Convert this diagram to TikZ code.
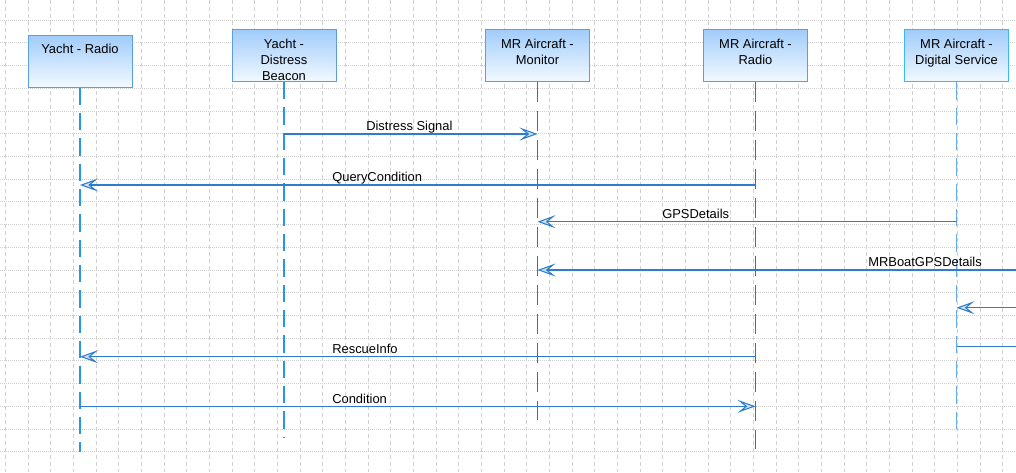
\documentclass[tikz,border=0pt]{standalone}
\usepackage{fontspec}
\setmainfont{Liberation Sans}
\usepackage{tikz}
\usetikzlibrary{arrows.meta, shapes, positioning}

\definecolor{rahmen}{RGB}{90,160,225}
\definecolor{rahmenhell}{RGB}{60,185,245}
\definecolor{boxoben}{RGB}{160,204,250}
\definecolor{boxunten}{RGB}{242,249,255}
\definecolor{lebenslinie}{RGB}{40,150,230}
\definecolor{lebenslinieb}{RGB}{105,172,232}
\definecolor{nachricht}{RGB}{45,125,205}
\definecolor{spitze}{RGB}{205,228,250}
\definecolor{raster}{RGB}{208,208,208}

\begin{document}
\begin{tikzpicture}[x=0.75pt, y=-0.75pt,
			objekt/.style={draw=rahmen, line width=0.75pt, top color=boxoben, bottom color=boxunten, minimum width=78pt, minimum height=39pt, inner sep=0pt},
			objtext/.style={anchor=north, align=center, inner sep=0pt},
			leben/.style={draw=lebenslinie, line width=0.9pt, dash pattern=on 13pt off 6pt},
			lebengrau/.style={draw=black!60, line width=0.75pt, dash pattern=on 15pt off 6.75pt},
			msg/.style={draw=nachricht, line width=0.8pt},
			lbl/.style={anchor=base west, inner sep=0pt},
			>={Stealth[length=13.5pt, width=9.75pt, inset=6pt, fill=spitze]},   %Pfeilspitzen
			font=\fontsize{9.7}{12}\selectfont]
			\useasboundingbox (0,0) rectangle (1016,472);
			\clip (0,0) rectangle (1016,472);
			%Raster zeichnen
			\foreach \i in {0,...,44} \draw[raster, line width=0.6pt, dash pattern=on 3pt off 2.25pt] ({5.3+22.67*\i},0) -- ({5.3+22.67*\i},472);
			\foreach \j in {1,...,21} \draw[raster, line width=0.6pt, dash pattern=on 0.75pt off 0.75pt] (0,{-2.7+22.72*\j}) -- (1016,{-2.7+22.72*\j});
			% Objekte
			\node[objekt] (yr) at (80,61) {};
			\node[objekt] (db) at (284,55.5) {};
			\node[objekt] (mon) at (537.5,55) {};
			\node[objekt] (mr) at (755.5,55) {};
			\node[objekt, draw=rahmenhell] (ds) at (956.5,55.7) {};
			% Lebenslinien
			\coordinate (yr-end) at (80,452);
			\coordinate (db-end) at (284,437);
			\coordinate (mon-end) at (537.5,420);
			\coordinate (mr-end) at (755.5,449);
			\coordinate (ds-end) at (956.5,434);
			\draw[leben] (yr.south) -- (yr-end);
			\draw[leben] (db.south) -- (db-end);
			\draw[lebengrau] (mon.south) -- (mon-end);
			\draw[lebengrau] (mr.south) -- (mr-end);
			\draw[leben, draw=lebenslinieb] (ds.south) -- (ds-end);
			% Beschriftung der Objekte
			\node[objtext] (yr-t) at ([yshift=-7pt]yr.north) {Yacht - Radio};
			\node[objtext] (db-t) at ([yshift=-7.5pt]db.north) {Yacht -\\Distress\\Beacon};
			\node[objtext] (mon-t) at ([yshift=-7.5pt]mon.north) {MR Aircraft -\\Monitor};
			\node[objtext] (mr-t) at ([yshift=-7.5pt]mr.north) {MR Aircraft -\\Radio};
			\node[objtext] (ds-t) at ([yshift=-7.5pt]ds.north) {MR Aircraft -\\Digital Service};
			% Nachrichten
			\coordinate (rand) at (1030,0);
			\coordinate (m1) at (0,134);
			\coordinate (m2) at (0,185);
			\coordinate (m3) at (0,221.7);
			\coordinate (m4) at (0,270);
			\coordinate (m5) at (0,307.7);
			\coordinate (m6) at (0,346.7);
			\coordinate (m7) at (0,356.7);
			\coordinate (m8) at (0,406.3);
			\draw[msg, ->] (db |- m1) -- (mon |- m1);
			\draw[msg, ->] (mr |- m2) -- (yr |- m2);
			\draw[msg, ->] (ds |- m3) -- (mon |- m3);
			\draw[msg, ->] (rand |- m4) -- (mon |- m4);
			\draw[msg, ->] (rand |- m5) -- (ds |- m5);
			\draw[msg] (ds |- m6) -- (rand |- m6);
			\draw[msg, ->] (mr |- m7) -- (yr |- m7);
			\draw[msg, ->] (yr |- m8) -- (mr |- m8);
			% Beschriftung der Nachrichten
			\node[lbl] (l-signal) at (366,130.5) {Distress Signal};
			\node[lbl] (l-query) at (332,181.5) {QueryCondition};
			\node[lbl] (l-gps) at (662,218) {GPSDetails};
			\node[lbl] (l-boat) at (868,266.5) {MRBoatGPSDetails};
			\node[lbl] (l-rescue) at (332,353) {RescueInfo};
			\node[lbl] (l-cond) at (332,403) {Condition};
		\end{tikzpicture}
\end{document}
